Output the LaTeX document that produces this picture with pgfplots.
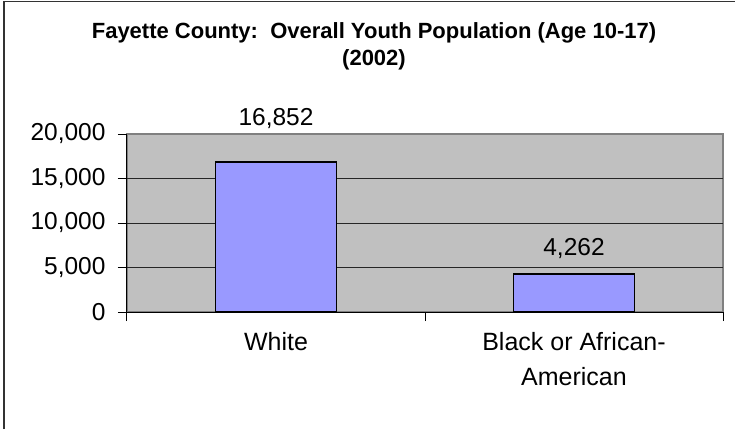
\documentclass[border=0pt]{standalone}
\usepackage{pgfplots}
\pgfplotsset{compat=1.18}
\usepackage{fontspec}
\setmainfont{Liberation Sans}
\definecolor{plotbg}{HTML}{C0C0C0}
\definecolor{barfill}{HTML}{9999FF}
\definecolor{framegray}{HTML}{808080}
\pgfplotstableread{
x y shift
0 16852 37
1 4262 19
}\datatable
\begin{document}
\begin{tikzpicture}
\useasboundingbox (-127pt,-117pt) rectangle (608pt,312pt);
\draw[line width=1.5pt, color=black!80] (-123pt,-117pt) -- (-123pt,310.5pt) -- (608pt,310.5pt);
\node[font=\fontsize{22}{28}\selectfont\bfseries, align=center, anchor=base] at (247pt,246pt) {Fayette County:\ \ Overall Youth Population (Age 10-17)\\(2002)};
\begin{axis}[
  at={(0pt,0pt)}, anchor=south west,
  scale only axis, width=596pt, height=178pt,
  xmin=-0.5, xmax=1.5, ymin=0, ymax=20000,
  axis lines=left,
  axis line style={-, black, line width=1pt},
  axis background/.style={fill=plotbg, draw=framegray, line width=1.2pt},
  tick align=outside,
  tick style={black, line width=1pt},
  major tick length=9pt,
  scaled y ticks=false,
  ytick={0,5000,10000,15000,20000},
  extra y ticks={5000,10000,15000},
  extra y tick labels={},
  extra y tick style={grid=major, major grid style={black!85, line width=0.9pt}},
  xtick={-0.5,0.5,1.5},
  xticklabels={,,},
  x tick style={line width=1pt},
  extra x ticks={0,1},
  extra x tick labels={White,{Black or African-\\American}},
  extra x tick style={major tick length=0pt},
  xticklabel style={font=\fontsize{25}{35}\selectfont, align=center, yshift=-17pt},
  yticklabel style={font=\fontsize{24.5}{29}\selectfont, xshift=-9pt},
  /pgf/number format/.cd, fixed, 1000 sep={,}, assume math mode=true,
  /pgfplots/.cd,
  ybar, bar width=0.406,
  nodes near coords,
  visualization depends on={\thisrow{shift}\as\labshift},
  nodes near coords style={font=\fontsize{24.5}{29}\selectfont, anchor=base, yshift=\labshift pt, black},
]
\addplot[fill=barfill, draw=black, line width=1.5pt] table[x=x, y=y] {\datatable};
\end{axis}
\end{tikzpicture}
\end{document}
